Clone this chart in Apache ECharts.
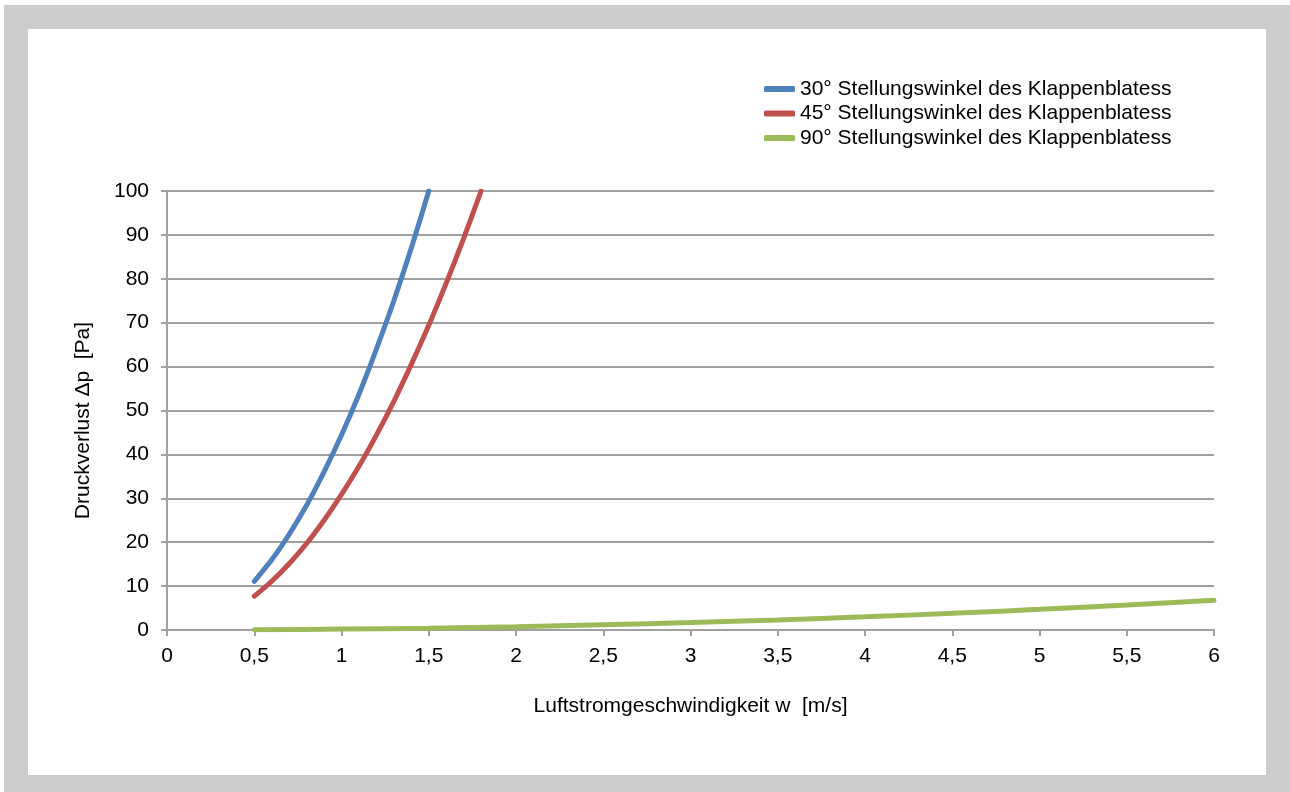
<!DOCTYPE html>
<html>
<head>
<meta charset="utf-8">
<script src="https://cdn.jsdelivr.net/npm/echarts@6/dist/echarts.min.js"></script>
<style>
  html, body { margin: 0; padding: 0; background: #ffffff; }
  #frame { position: absolute; left: 4px; top: 5px; width: 1286px; height: 787px; background: #cccccc; }
  #panel { position: absolute; left: 28px; top: 29px; width: 1238px; height: 746px; background: #ffffff; }
  #chart { position: absolute; left: 0; top: 0; width: 1290px; height: 792px; }
</style>
</head>
<body>
<div id="frame"></div>
<div id="panel"></div>
<div id="chart"></div>
<script>
// Data
const seriesNames = [
  '30° Stellungswinkel des Klappenblatess',
  '45° Stellungswinkel des Klappenblatess',
  '90° Stellungswinkel des Klappenblatess'
];
const blueW = [0.5, 0.6, 0.7, 0.8, 0.9, 1.0, 1.1, 1.2, 1.3, 1.4, 1.5];
const blueP = [11.1, 16.0, 21.8, 28.4, 36.0, 44.4, 53.7, 64.0, 75.0, 87.0, 100];
const redW = [0.5, 0.6, 0.7, 0.8, 0.9, 1.0, 1.1, 1.2, 1.3, 1.4, 1.5, 1.6, 1.7, 1.8];
const redP = [7.7, 11.1, 15.1, 19.7, 25.0, 30.9, 37.3, 44.4, 52.1, 60.5, 69.4, 79.0, 89.2, 100];
const greenW = [0.5, 1.0, 1.5, 2.0, 2.5, 3.0, 3.5, 4.0, 4.5, 5.0, 5.5, 6.0];
const greenP = [0.05, 0.2, 0.4, 0.75, 1.2, 1.7, 2.3, 3.0, 3.8, 4.7, 5.7, 6.8];
const colors = ['#4f81bd', '#c0504d', '#9bbb59'];
const xAxisTitle = 'Luftstromgeschwindigkeit w  [m/s]';
const yAxisTitle = 'Druckverlust \u0394p  [Pa]';

const pair = (xs, ys) => xs.map((x, i) => [x, ys[i]]);
const font = 'Liberation Sans, Arial, sans-serif';
const axisGray = '#a0a0a0';
const fs = 21;

const chart = echarts.init(document.getElementById('chart'), null, { renderer: 'canvas' });
chart.setOption({
  backgroundColor: 'transparent',
  animation: false,
  textStyle: { fontFamily: font },
  legend: {
    orient: 'vertical',
    left: 764,
    top: 77,
    padding: 0,
    itemWidth: 31,
    itemHeight: 6,
    itemGap: 0.5,
    icon: 'roundRect',
    textStyle: { fontSize: fs, color: '#000', fontFamily: font, lineHeight: 24 },
    data: seriesNames
  },
  grid: { left: 167, right: 76, top: 191, bottom: 162, containLabel: false },
  xAxis: {
    type: 'value',
    min: 0, max: 6, interval: 0.5,
    name: xAxisTitle,
    nameLocation: 'middle',
    nameGap: 66,
    nameTextStyle: { fontSize: fs, color: '#000', fontFamily: font },
    axisLine: { show: true, onZero: false, lineStyle: { color: axisGray, width: 2 } },
    axisTick: { show: true, length: 6, lineStyle: { color: axisGray, width: 2 } },
    axisLabel: { fontSize: fs, color: '#000', margin: 16, fontFamily: font,
      formatter: v => String(v).replace('.', ',') },
    splitLine: { show: false }
  },
  yAxis: {
    type: 'value',
    min: 0, max: 100, interval: 10,
    name: yAxisTitle,
    nameLocation: 'middle',
    nameGap: 73,
    nameRotate: 90,
    nameTextStyle: { fontSize: fs, color: '#000', fontFamily: font, padding: [0, 20, 0, 0] },
    axisLine: { show: true, lineStyle: { color: axisGray, width: 2 } },
    axisTick: { show: true, length: 6, lineStyle: { color: axisGray, width: 2 } },
    axisLabel: { fontSize: fs, color: '#000', margin: 18, fontFamily: font },
    splitLine: { show: true, lineStyle: { color: axisGray, width: 2 } }
  },
  series: [
    { name: seriesNames[0], type: 'line', data: pair(blueW, blueP), smooth: 0.3, showSymbol: false,
      lineStyle: { width: 5, color: colors[0], cap: 'round' }, itemStyle: { color: colors[0] } },
    { name: seriesNames[1], type: 'line', data: pair(redW, redP), smooth: 0.3, showSymbol: false,
      lineStyle: { width: 5, color: colors[1], cap: 'round' }, itemStyle: { color: colors[1] } },
    { name: seriesNames[2], type: 'line', data: pair(greenW, greenP), smooth: 0.3, showSymbol: false,
      lineStyle: { width: 5, color: colors[2], cap: 'round' }, itemStyle: { color: colors[2] } }
  ]
});
</script>
</body>
</html>
